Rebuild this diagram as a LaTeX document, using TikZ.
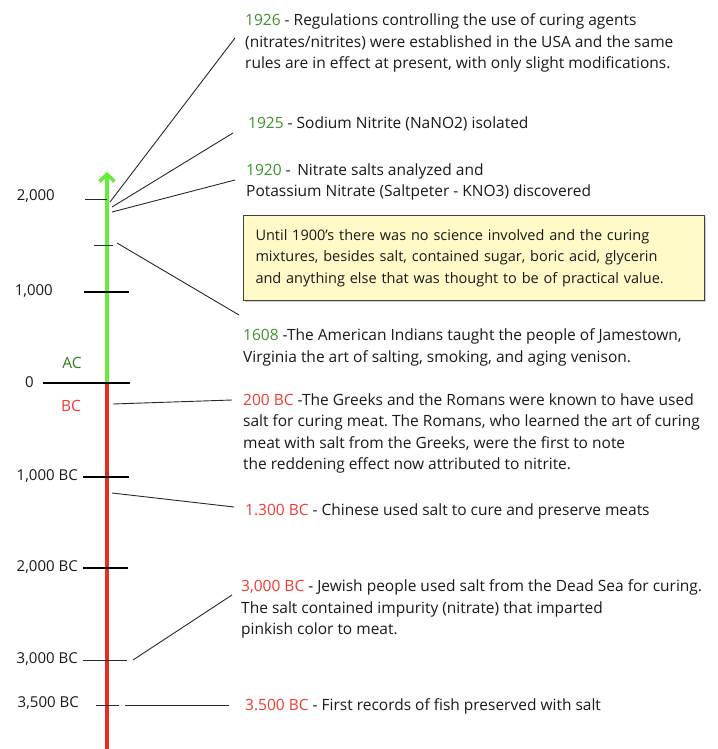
\documentclass[tikz,border=0pt]{standalone}
\usepackage{fontspec}
\setmainfont{Open Sans}
\usepackage{tikz}
\usetikzlibrary{
	positioning,
	arrows.meta,
	shadows,
	calc
}
\definecolor{AxisGreen}{RGB}{105,235,60}
\definecolor{AxisRed}{RGB}{228,45,35}
\definecolor{YearGreen}{RGB}{65,145,45}
\definecolor{YearRed}{RGB}{240,60,50}
\definecolor{NoteFill}{RGB}{255,250,200}
\definecolor{LeadGray}{RGB}{40,40,40}
\frenchspacing

\begin{document}
\begin{tikzpicture}[
				x=1pt, y=-1pt,
				every node/.style={
					font=\fontsize{15.5}{21.5}\selectfont,
					text=black!90
				},
				event/.style={
					anchor=north west,
					inner sep=0pt,
					align=left
				},
				ticklabel/.style={
					anchor=east,
					inner sep=0pt,
					font=\fontsize{15}{18}\selectfont
				},
				lead/.style={
					draw=LeadGray,
					line width=0.9pt
				},
				bigtick/.style={
					line width=1.8pt,
					black
				},
				smalltick/.style={
					line width=0.9pt,
					LeadGray
				}
				]
				
				\useasboundingbox (0,0) rectangle (717,749);
				
				% time axis
				\draw[AxisRed, line width=3.2pt] (107,383) -- (107,749);
				\draw[
				AxisGreen,
				line width=3.6pt,
				-{Straight Barb[length=7pt,width=15pt]}
				] (107,383) -- (107,172);
				
				% ticks
				\draw[smalltick] (85,199) -- (107,199);
				\draw[smalltick] (94,245) -- (113,245);
				\draw[bigtick] (84,292) -- (129,292);
				\draw[bigtick] (43,383) -- (130,383);
				\draw[bigtick] (83,477) -- (129,477);
				\draw[bigtick] (83,568) -- (128,568);
				\draw[smalltick] (83,660) -- (127,660);
				\draw[smalltick] (96,705) -- (119,705);
				
				\node[ticklabel] (l2000) at (55,196) {2,000};
				\node[ticklabel] (l1000) at (53,291) {1,000};
				\node[ticklabel] (l0) at (34,382) {0};
				\node[ticklabel] (l1000bc) at (78,476) {1,000 BC};
				\node[ticklabel] (l2000bc) at (78,567) {2,000 BC};
				\node[ticklabel] (l3000bc) at (78,659) {3,000 BC};
				\node[ticklabel] (l3500bc) at (79,703) {3,500 BC};
				\node[text=YearGreen!85!black] (ac) at (72,363) {AC};
				\node[text=YearRed] (bc) at (71,406) {BC};
				
				% events
				\node[event] (e1926) at (245,13.5) {\textcolor{YearGreen}{1926} - Regulations controlling the use of curing agents\\(nitrates/nitrites) were established in the USA and the same\\rules are in effect at present, with only slight modifications.};
				\node[event] (e1925) at (248,116.5) {\textcolor{YearGreen}{1925} - Sodium Nitrite (NaNO2) isolated};
				\node[event] (e1920) at (246,163.5) {\textcolor{YearGreen}{1920} - \,Nitrate salts analyzed and\\Potassium Nitrate (Saltpeter - KNO3) discovered};
				\node[
				draw=black!75,
				fill=NoteFill,
				line width=1pt,
				anchor=north west,
				text width=437pt,
				minimum height=85pt,
				inner xsep=12pt,
				align=left,
				font=\fontsize{14.5}{21.5}\selectfont,
				drop shadow={shadow xshift=1pt, shadow yshift=-1pt, opacity=0.35}
				] (note) at (243,215) {Until 1900's there was no science involved and the curing\\mixtures, besides salt, contained sugar, boric acid, glycerin\\and anything else that was thought to be of practical value.};
				\node[event] (e1608) at (243,328.5) {\textcolor{YearGreen}{1608} -The American Indians taught the people of Jamestown,\\Virginia the art of salting, smoking, and aging venison.};
				\node[event] (e200) at (243,393.5) {\textcolor{YearRed}{200 BC} -The Greeks and the Romans were known to have used\\salt for curing meat. The Romans, who learned the art of curing\\meat with salt from the Greeks, were the first to note\\the reddening effect now attributed to nitrite.};
				\node[event] (e1300) at (245,503.5) {\textcolor{YearRed}{1.300 BC} - Chinese used salt to cure and preserve meats};
				\node[event] (e3000) at (241,579.5) {\textcolor{YearRed}{3,000 BC} - Jewish people used salt from the Dead Sea for curing.\\The salt contained impurity (nitrate) that imparted\\pinkish color to meat.};
				\node[event] (e3500) at (245,698.5) {\textcolor{YearRed}{3.500 BC} - First records of fish preserved with salt};
				
				% leaders from the axis
				\coordinate (a1926) at (110,202);
				\coordinate (a1925) at (112,207);
				\coordinate (a1920) at (112,212);
				\coordinate (a1608) at (117,243);
				\coordinate (a200) at (113,404);
				\coordinate (a1300) at (112,493);
				\coordinate (a3000) at (133,660);
				\coordinate (a3500) at (125,705);
				
				\draw[lead] (a1926) -- ($(e1926.north west)+(-10,24.5)$);
				\draw[lead] (a1925) -- ($(e1925.north west)+(-15,16.5)$);
				\draw[lead] (a1920) -- ($(e1920.north west)+(-11,16.5)$);
				\draw[lead] (a1608) -- ($(e1608.north west)+(-4,-13.5)$);
				\draw[lead] (a200) -- ($(e200.north west)+(-11,6.5)$);
				\draw[lead] (a1300) -- ($(e1300.north west)+(-11,3.5)$);
				\draw[lead] (a3000) -- ($(e3000.north west)+(-9,15.5)$);
				\draw[lead] (a3500) -- ($(e3500.north west)+(-16,6.5)$);
				
			\end{tikzpicture}
\end{document}
